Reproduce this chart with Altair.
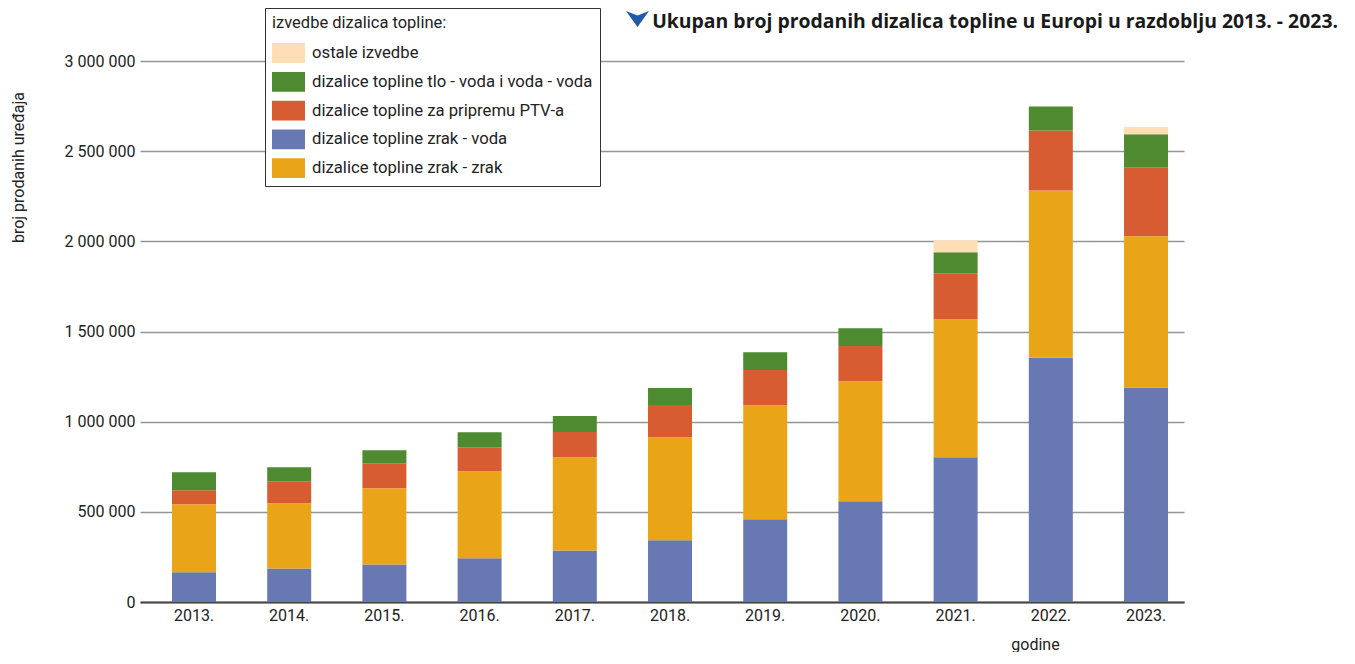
import altair as alt
import pandas as pd

# ---- data ----
years = ["2013.", "2014.", "2015.", "2016.", "2017.", "2018.",
         "2019.", "2020.", "2021.", "2022.", "2023."]
zrak_voda = [165000, 186000, 208000, 242000, 286000, 343000,
             459000, 559000, 802000, 1355000, 1190000]
zrak_zrak = [377000, 361000, 423000, 483000, 517000, 571000,
             632000, 665000, 766000, 927000, 838000]
ptv = [78000, 122000, 138000, 133000, 140000, 178000,
       196000, 196000, 255000, 333000, 383000]
tlo_voda = [99000, 78000, 73000, 84000, 88000, 94000,
            98000, 98000, 116000, 133000, 183000]
ostale = [0, 0, 0, 0, 0, 0, 0, 0, 65000, 0, 40000]

series_names = [
    "ostale izvedbe",
    "dizalice topline tlo - voda i voda - voda",
    "dizalice topline za pripremu PTV-a",
    "dizalice topline zrak - voda",
    "dizalice topline zrak - zrak",
]
series_colors = ["#FFDDB5", "#4E8A2F", "#D85C31", "#6878B2", "#EAA418"]
# stacking order bottom -> top
stack_series = [
    ("dizalice topline zrak - voda", zrak_voda),
    ("dizalice topline zrak - zrak", zrak_zrak),
    ("dizalice topline za pripremu PTV-a", ptv),
    ("dizalice topline tlo - voda i voda - voda", tlo_voda),
    ("ostale izvedbe", ostale),
]
y_ticks = [0, 500000, 1000000, 1500000, 2000000, 2500000, 3000000]

title_text = "Ukupan broj prodanih dizalica topline u Europi u razdoblju 2013. - 2023."

rows = []
for idx, (name, vals) in enumerate(stack_series):
    for y, v in zip(years, vals):
        if v > 0:
            rows.append({"godina": y, "vrsta": name, "vrijednost": v, "red": idx})
df = pd.DataFrame(rows)

FONT = "Roboto"

bars = alt.Chart(df).mark_bar().encode(
    x=alt.X(
        "godina:N",
        sort=years,
        scale=alt.Scale(paddingInner=0.538, paddingOuter=0.252, align=0.667, round=False),
        axis=alt.Axis(
            title="godine",
            labelAngle=0,
            ticks=False,
            labelPadding=5,
            labelFont=FONT,
            labelFontSize=16,
            labelColor="#222222",
            domainColor="#444444",
            domainWidth=2,
            titleFont=FONT,
            titleFontSize=16,
            titleFontWeight="normal",
            titleColor="#222222",
            titleX=895,
            titleY=42,
            titleAlign="center",
            titleBaseline="middle",
        ),
    ),
    y=alt.Y(
        "vrijednost:Q",
        stack="zero",
        scale=alt.Scale(domain=[0, 3000000]),
        axis=alt.Axis(
            title="broj prodanih uređaja",
            values=y_ticks,
            labelExpr="replace(replace(format(datum.value, ','), ',', ' '), ',', ' ')",
            ticks=False,
            domain=False,
            labelPadding=5,
            labelFont=FONT,
            labelFontSize=16,
            labelColor="#222222",
            gridColor="#959595",
            gridWidth=1.6,
            titleFont=FONT,
            titleFontSize=16,
            titleFontWeight="normal",
            titleColor="#222222",
            titleAngle=-90,
            titleX=-122,
            titleY=106,
            titleAlign="center",
            titleBaseline="middle",
        ),
    ),
    color=alt.Color(
        "vrsta:N",
        scale=alt.Scale(domain=series_names, range=series_colors),
        legend=alt.Legend(
            title="izvedbe dizalica topline:",
            orient="none",
            legendX=125,
            legendY=-53,
            direction="vertical",
            fillColor="white",
            strokeColor="#333333",
            padding=7,
            titleFont=FONT,
            titleFontSize=16.5,
            titleFontWeight="normal",
            titleColor="#222222",
            titlePadding=5,
            labelFont=FONT,
            labelFontSize=16.7,
            labelColor="#222222",
            labelOffset=7,
            symbolType="M-1,-0.6H1V0.6H-1Z",
            symbolSize=1089,
            symbolStrokeWidth=0,
            symbolOpacity=1,
            rowPadding=1.8,
            labelLimit=400,
        ),
    ),
    order=alt.Order("red:Q", sort="ascending"),
)

title_df = pd.DataFrame({"t": [title_text]})
title_mark = alt.Chart(title_df).mark_text(
    align="right", baseline="middle", font="Open Sans", fontSize=19.4,
    fontWeight="bold", color="#1a1a1a",
).encode(text="t:N", x=alt.value(1198), y=alt.value(-39))

icon_mark = alt.Chart(title_df).mark_point(
    shape="M-1,-0.61L0,-0.22L1,-0.61L0,0.78Z", filled=True, size=529,
    color="#1F5BA6", opacity=1, strokeWidth=0,
).encode(x=alt.value(497.5), y=alt.value(-43))

chart = alt.layer(bars, title_mark, icon_mark).properties(
    width=1044,
    height=541,
    autosize=alt.AutoSizeParams(type="none"),
    padding={"left": 132, "top": 53, "right": 163, "bottom": 50},
).configure_view(stroke=None)

chart.save(
    "out.html",
    embed_options={"renderer": "svg", "actions": False},
)
